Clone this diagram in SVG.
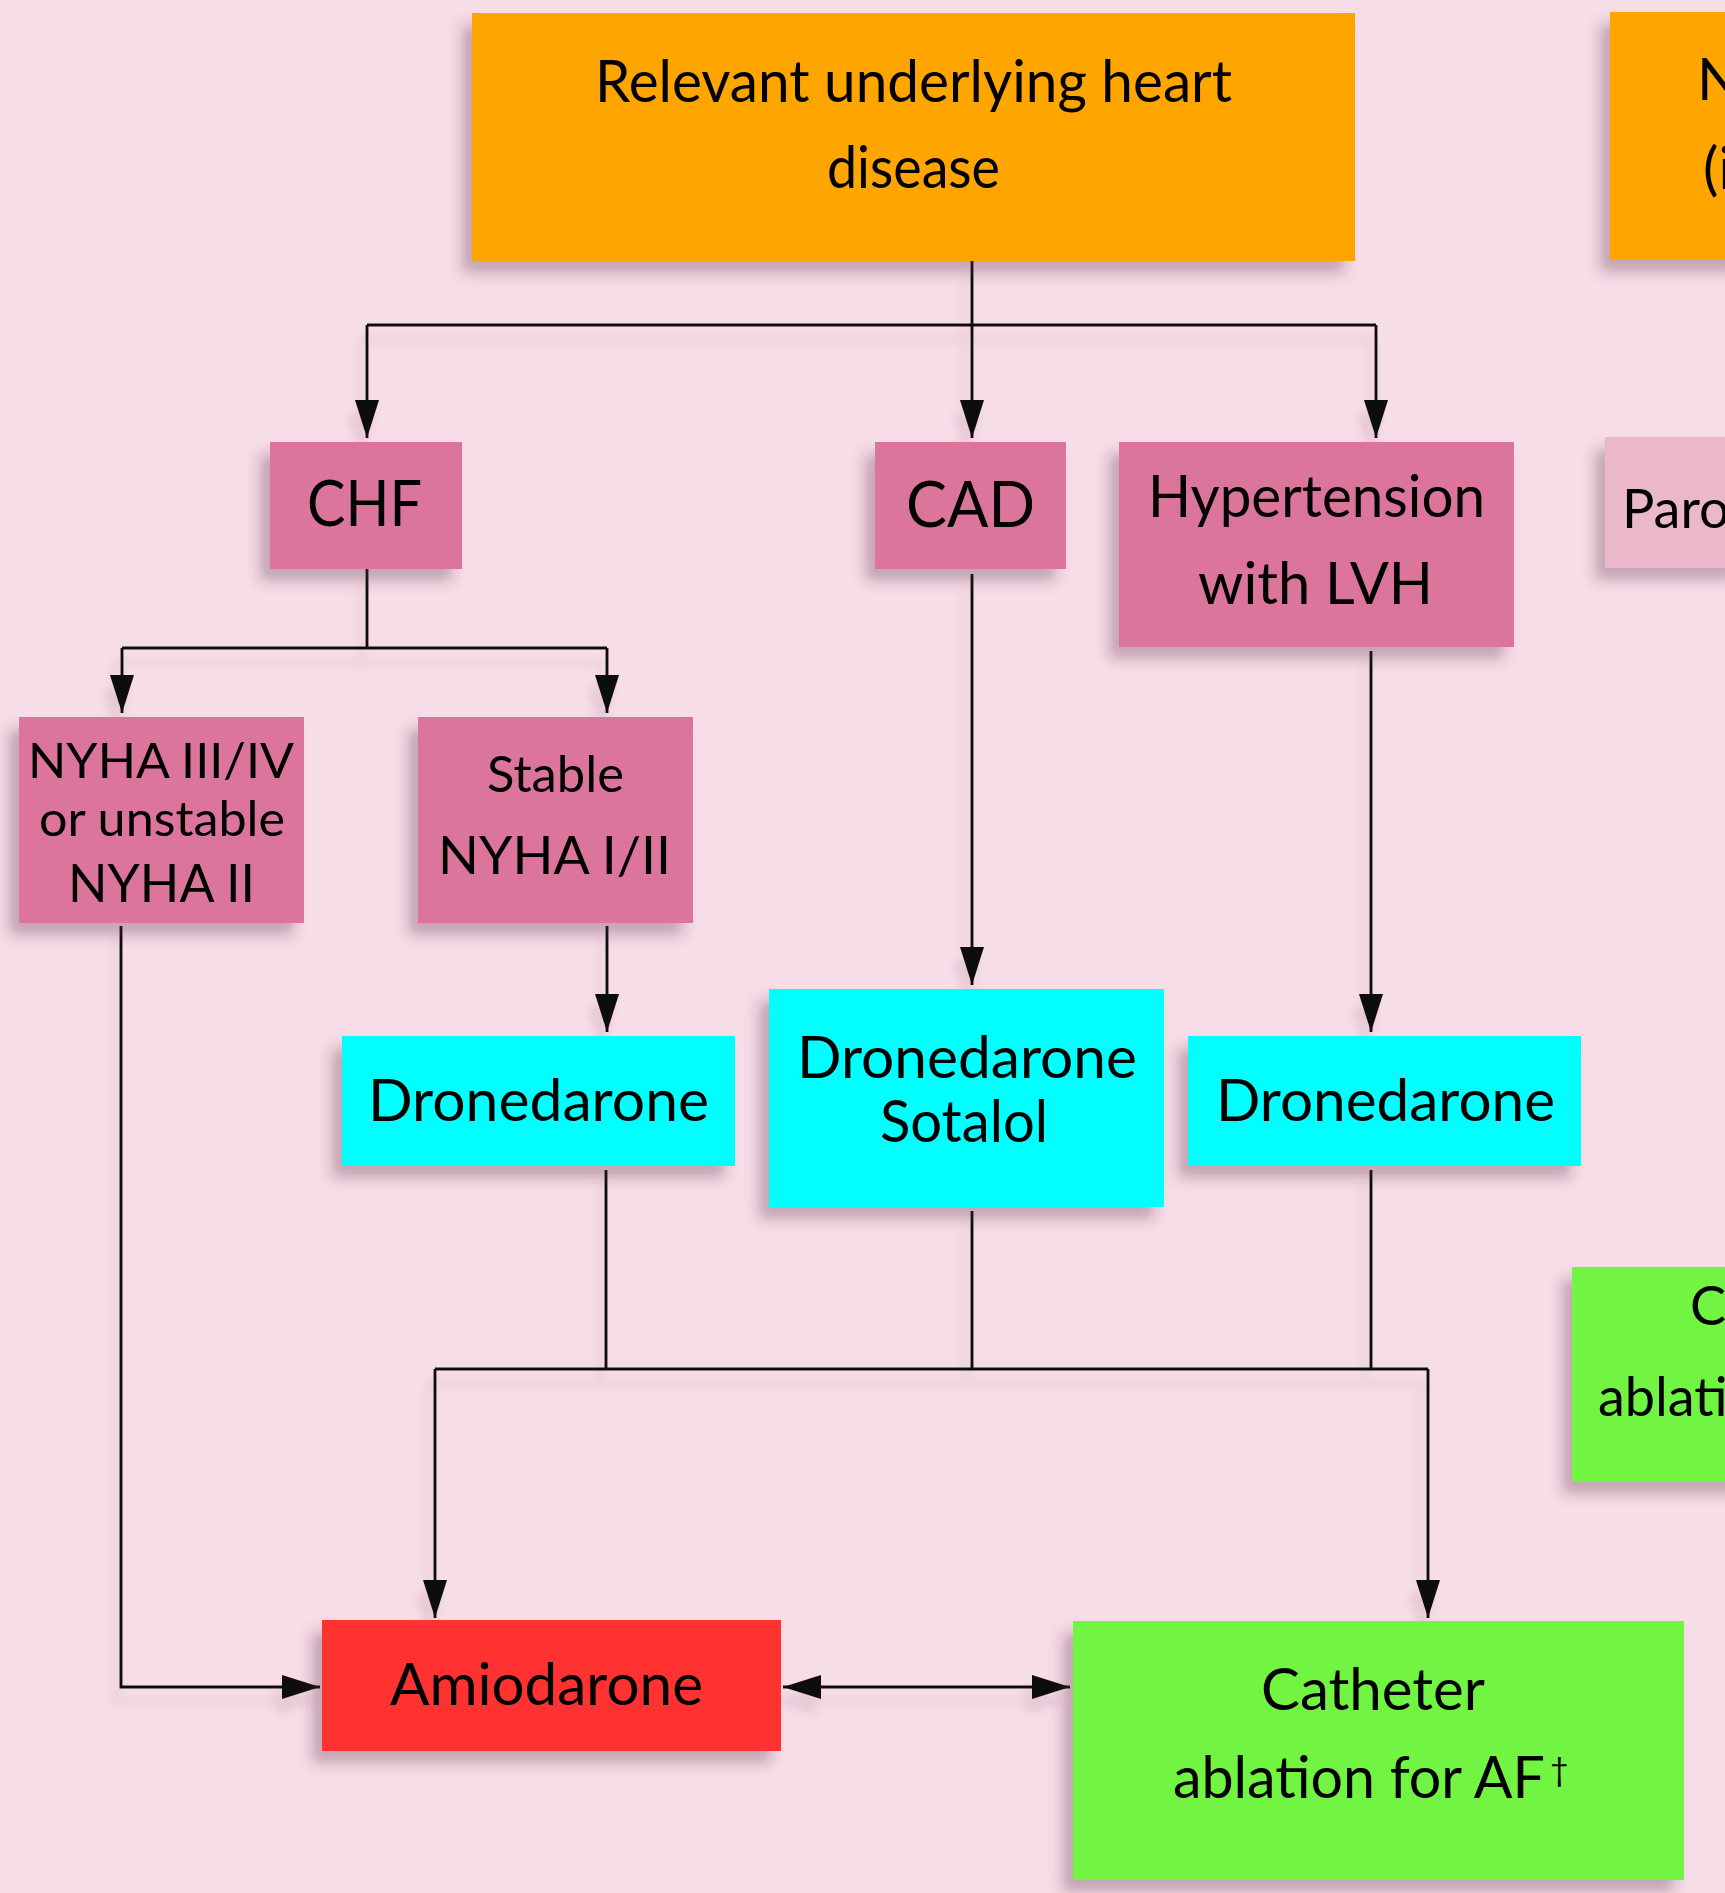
<svg xmlns="http://www.w3.org/2000/svg" width="1725" height="1893" viewBox="0 0 1725 1893">
<defs>
<style>
text{font-family:Lato,"Open Sans","Liberation Sans",sans-serif;fill:#000;text-anchor:middle}
.t58{font-size:58px}
.t63{font-size:63px}
.t52{font-size:52px}
.t48{font-size:48px}
.t54{font-size:54px}
.st{text-anchor:start}
.box{filter:url(#sh)}
.pink{fill:#DC749B}
.lpink{fill:#EBB8CB}
.orange{fill:#FFA500}
.cyan{fill:#00FFFF}
.red{fill:#FF3333}
.green{fill:#72F542}
.conn path{fill:none;stroke:#111;stroke-width:2.8}
.arr{marker-end:url(#ah)}
.dbl{marker-end:url(#ah);marker-start:url(#ah)}
</style>
<filter id="sh" x="-20%" y="-20%" width="140%" height="150%">
<feGaussianBlur in="SourceAlpha" stdDeviation="7"/>
<feOffset dx="-10" dy="12" result="b"/>
<feFlood flood-color="#5a2a40" flood-opacity="0.32"/>
<feComposite in2="b" operator="in"/>
<feMerge><feMergeNode/><feMergeNode in="SourceGraphic"/></feMerge>
</filter>
<filter id="lsh" filterUnits="userSpaceOnUse" x="0" y="0" width="1725" height="1893">
<feGaussianBlur in="SourceAlpha" stdDeviation="5"/>
<feOffset dx="-6" dy="14" result="b"/>
<feFlood flood-color="#5a2a40" flood-opacity="0.12"/>
<feComposite in2="b" operator="in"/>
<feMerge><feMergeNode/><feMergeNode in="SourceGraphic"/></feMerge>
</filter>
<marker id="ah" markerUnits="userSpaceOnUse" markerWidth="40" markerHeight="26" refX="38" refY="12" orient="auto-start-reverse">
<path d="M0,0 L38,12 L0,24 Z" fill="#111"/>
</marker>
</defs>
<rect width="1725" height="1893" fill="#F6DDE7"/>

<g id="connectors" class="conn" filter="url(#lsh)">
<path class="arr" d="M972,261 V438"/>
<path d="M367,325 H1376"/>
<path class="arr" d="M367,325 V438"/>
<path class="arr" d="M1376,325 V438"/>
<path d="M367,569 V648"/>
<path d="M122,648 H607"/>
<path class="arr" d="M122,648 V713"/>
<path class="arr" d="M607,648 V713"/>
<path class="arr" d="M972,574 V985"/>
<path class="arr" d="M1371,651 V1032"/>
<path class="arr" d="M607,926 V1032"/>
<path d="M606,1170 V1369"/>
<path d="M972,1211 V1369"/>
<path d="M1371,1170 V1369"/>
<path d="M435,1369 H1428"/>
<path class="arr" d="M435,1369 V1618"/>
<path class="arr" d="M1428,1369 V1618"/>
<path class="arr" d="M121,926 V1687 H320"/>
<path class="dbl" d="M783,1687 H1070"/>
</g>

<g id="node-heart-disease">
<rect class="box orange" x="472" y="13" width="883" height="248"/>
<text class="t58" x="913.5" y="102" textLength="637" lengthAdjust="spacingAndGlyphs">Relevant underlying heart</text>
<text class="t58" x="913.5" y="188" textLength="173" lengthAdjust="spacingAndGlyphs">disease</text>
</g>

<g id="node-no-heart-disease">
<rect class="box orange" x="1610" y="12" width="140" height="248"/>
<text class="t58 st" x="1697" y="100">N</text>
<text class="t58 st" x="1703" y="189">(i</text>
</g>

<g id="node-chf">
<rect class="box pink" x="270" y="442" width="192" height="127"/>
<text class="t63" x="364.5" y="526" textLength="115" lengthAdjust="spacingAndGlyphs">CHF</text>
</g>

<g id="node-cad">
<rect class="box pink" x="875" y="442" width="191" height="127"/>
<text class="t63" x="970.5" y="527" textLength="129" lengthAdjust="spacingAndGlyphs">CAD</text>
</g>

<g id="node-hypertension">
<rect class="box pink" x="1119" y="442" width="395" height="205"/>
<text class="t58" x="1316.5" y="517" textLength="337" lengthAdjust="spacingAndGlyphs">Hypertension</text>
<text class="t58" x="1315.5" y="604" textLength="235" lengthAdjust="spacingAndGlyphs">with LVH</text>
</g>

<g id="node-paroxysmal">
<rect class="box lpink" x="1605" y="437" width="140" height="131"/>
<text class="t54 st" x="1622" y="528">Paro</text>
</g>

<g id="node-nyha-3-4">
<rect class="box pink" x="19" y="717" width="285" height="206"/>
<text class="t48" x="161" y="778" textLength="266" lengthAdjust="spacingAndGlyphs">NYHA III/IV</text>
<text class="t48" x="162" y="836" textLength="246" lengthAdjust="spacingAndGlyphs">or unstable</text>
<text class="t52" x="161.5" y="902" textLength="187" lengthAdjust="spacingAndGlyphs">NYHA II</text>
</g>

<g id="node-stable">
<rect class="box pink" x="418" y="717" width="275" height="206"/>
<text x="555.5" y="792" font-size="50" textLength="137" lengthAdjust="spacingAndGlyphs">Stable</text>
<text x="554.5" y="874" font-size="53" textLength="233" lengthAdjust="spacingAndGlyphs">NYHA I/II</text>
</g>

<g id="node-dronedarone-left">
<rect class="box cyan" x="342" y="1036" width="393" height="130"/>
<text class="t58" x="538.5" y="1121" textLength="341" lengthAdjust="spacingAndGlyphs">Dronedarone</text>
</g>

<g id="node-dronedarone-sotalol">
<rect class="box cyan" x="769" y="989" width="395" height="218"/>
<text class="t58" x="967" y="1078" textLength="340" lengthAdjust="spacingAndGlyphs">Dronedarone</text>
<text class="t58" x="964" y="1142" textLength="168" lengthAdjust="spacingAndGlyphs">Sotalol</text>
</g>

<g id="node-dronedarone-right">
<rect class="box cyan" x="1188" y="1036" width="393" height="130"/>
<text class="t58" x="1385.5" y="1121" textLength="339" lengthAdjust="spacingAndGlyphs">Dronedarone</text>
</g>

<g id="node-catheter-right">
<rect class="box green" x="1572" y="1267" width="180" height="215"/>
<text class="t54 st" x="1690" y="1325">C</text>
<text class="t54 st" x="1598" y="1416">ablati</text>
</g>

<g id="node-amiodarone">
<rect class="box red" x="322" y="1620" width="459" height="131"/>
<text class="t58" x="546.5" y="1705" textLength="313" lengthAdjust="spacingAndGlyphs">Amiodarone</text>
</g>

<g id="node-catheter">
<rect class="box green" x="1073" y="1621" width="611" height="259"/>
<text class="t58" x="1373" y="1710" textLength="224" lengthAdjust="spacingAndGlyphs">Catheter</text>
<text class="t58 st" x="1173" y="1798"><tspan textLength="372" lengthAdjust="spacingAndGlyphs">ablation for AF</tspan><tspan x="1550" y="1781" font-size="32">†</tspan></text>
</g>
</svg>
